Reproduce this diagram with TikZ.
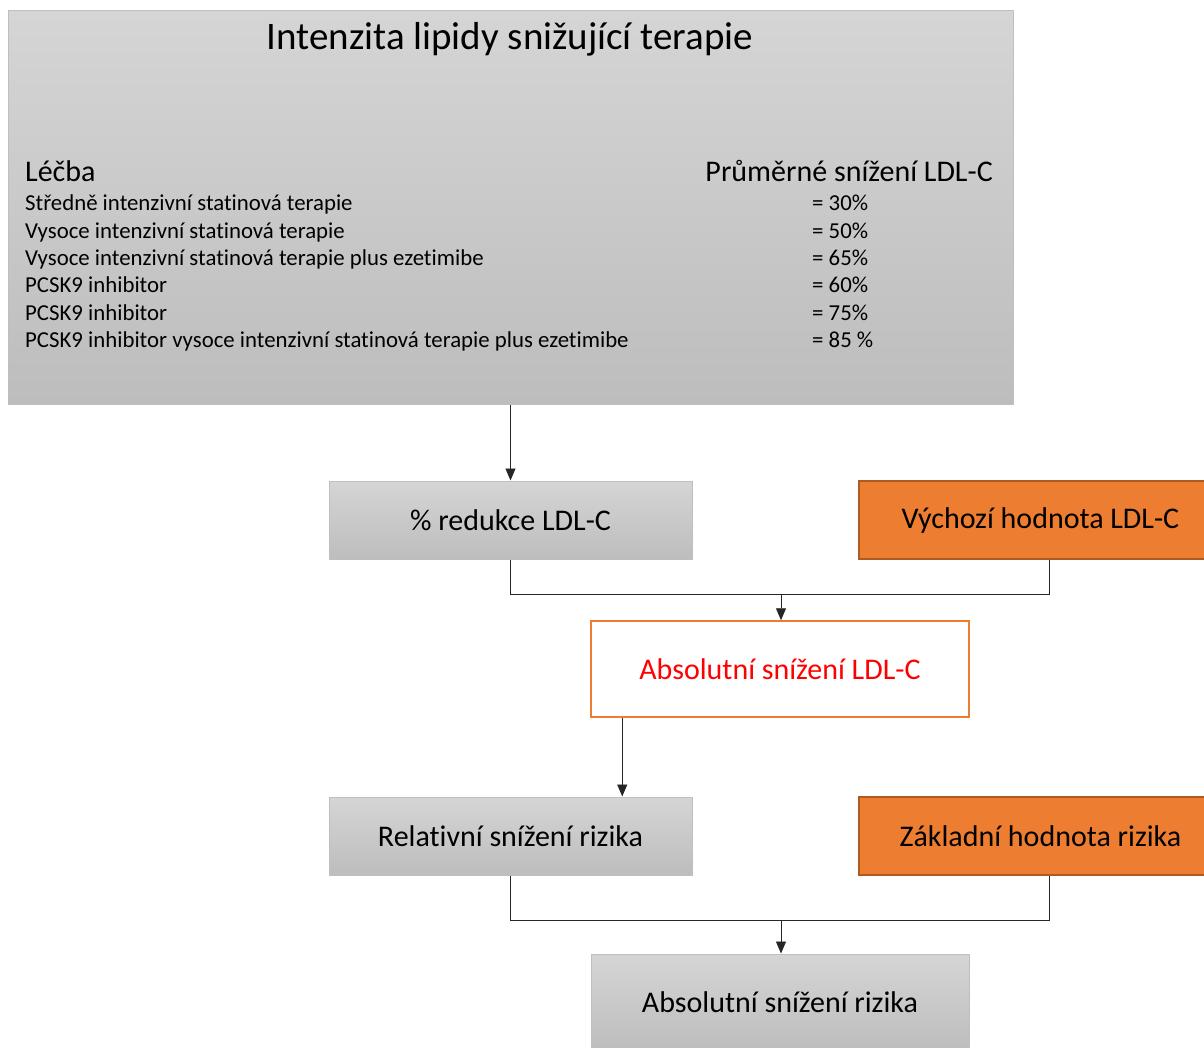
\documentclass[tikz,border=0pt]{standalone}
\usepackage{fontspec}
\setmainfont{Carlito}[Ligatures=NoCommon]
\usetikzlibrary{arrows.meta,calc}
\definecolor{grayTop}{HTML}{D5D5D5}
\definecolor{grayBot}{HTML}{BDBDBD}
\definecolor{grayEdge}{HTML}{BFBFBF}
\definecolor{orangeFill}{HTML}{ED7D31}
\definecolor{orangeEdge}{HTML}{AE5A21}
\definecolor{redText}{HTML}{FF0000}
\tikzset{
	graybox/.style={draw=grayEdge, line width=1pt, top color=grayTop, bottom color=grayBot,
		minimum width=363pt, minimum height=78pt, inner sep=0pt, font=\fontsize{30}{34}\selectfont},
	orangebox/.style={draw=orangeEdge, line width=1.5pt, fill=orangeFill,
		minimum width=363pt, minimum height=78pt, inner sep=0pt, font=\fontsize{30}{34}\selectfont},
	whitebox/.style={draw=orangeFill, line width=1.5pt, fill=white, text=redText,
		minimum width=378pt, minimum height=96pt, inner sep=0pt, font=\fontsize{30}{34}\selectfont},
	conn/.style={draw=black!85, line width=0.9pt},
	arr/.style={conn, -{Triangle[length=12pt,width=10pt]}},
	rowtext/.style={inner sep=0pt, anchor=base west, font=\fontsize{22.8}{26}\selectfont}
}
\newcommand{\mergearrow}[4]{
	\draw[conn] (#1) |- (#3) -| (#2);
	\draw[arr] (#3) -- (#4);
}

\begin{document}
\begin{tikzpicture}[x=1pt,y=-1pt]
	\useasboundingbox (0,0) rectangle (1204,1048);
	
	% top table box
	\node[graybox, minimum width=1005pt, minimum height=393pt] (intens) at (510.5,207.5) {};
	\node[inner sep=0pt, anchor=base, font=\fontsize{39}{44}\selectfont] (title) at (510,50) {Intenzita lipidy snižující terapie};
	\node[inner sep=0pt, anchor=base west, font=\fontsize{30}{34}\selectfont] (headL) at (25,182) {Léčba};
	\node[inner sep=0pt, anchor=base east, font=\fontsize{30}{34}\selectfont] (headR) at (993,182) {Průměrné snížení LDL-C};
	\foreach \y/\txt/\pct [count=\i] in {
		211/Středně intenzivní statinová terapie/= 30\%,
		239/Vysoce intenzivní statinová terapie/= 50\%,
		266/Vysoce intenzivní statinová terapie plus ezetimibe/= 65\%,
		293/PCSK9 inhibitor/= 60\%,
		320/PCSK9 inhibitor/= 75\%,
		348/PCSK9 inhibitor vysoce intenzivní statinová terapie plus ezetimibe/= 85 \%} {
		\node[rowtext] (row\i) at (25,\y) {\txt};
		\node[rowtext] (pct\i) at (812,\y) {\pct};
	}
	
	% flow boxes
	\node[graybox] (redukce) at (510.5,520) {\% redukce LDL-C};
	\node[orangebox] (vychozi) at (1040.5,520) {Výchozí hodnota LDL-C};
	\node[whitebox] (absldl) at (780,669) {Absolutní snížení LDL-C};
	\node[graybox] (relativ) at (510.5,836) {Relativní snížení rizika};
	\node[orangebox] (zaklad) at (1040.5,836) {Základní hodnota rizika};
	\node[graybox, minimum width=378pt, minimum height=96pt] (absriz) at (780,1002) {Absolutní snížení rizika};
	
	% connectors
	\draw[arr] (intens.south) -- (redukce.north);
	\coordinate (ldljoin) at ($(absldl.north)+(1,-26)$);
	\mergearrow{redukce.south}{[xshift=8.5pt]vychozi.south}{ldljoin}{ldljoin |- absldl.north}
	\coordinate (ldlout) at ($(absldl.south west)+(32,0)$);
	\draw[arr] (ldlout) -- (ldlout |- relativ.north);
	\coordinate (rizjoin) at ($(absriz.north)+(1,-33)$);
	\mergearrow{relativ.south}{[xshift=8.5pt]zaklad.south}{rizjoin}{rizjoin |- absriz.north}
\end{tikzpicture}
\end{document}
